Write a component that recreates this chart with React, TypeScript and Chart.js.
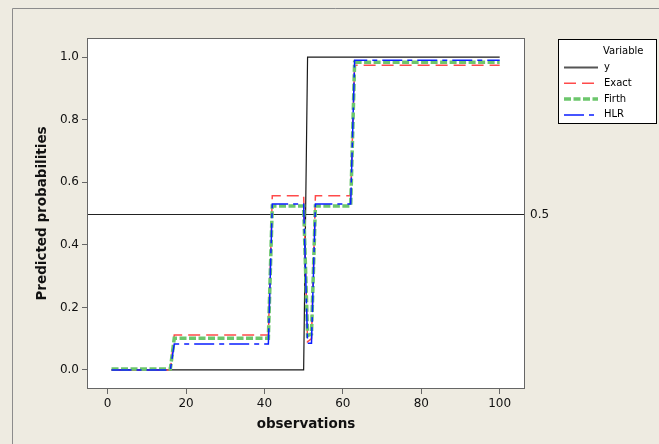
import { useEffect, useRef } from "react";
import { Chart, registerables } from "chart.js";

Chart.register(...registerables);

// ---------- data ----------
const observations = Array.from({ length: 100 }, (_, i) => i + 1);

const yValues = [
  0, 0, 0, 0, 0, 0, 0, 0, 0, 0,
  0, 0, 0, 0, 0, 0, 0, 0, 0, 0,
  0, 0, 0, 0, 0, 0, 0, 0, 0, 0,
  0, 0, 0, 0, 0, 0, 0, 0, 0, 0,
  0, 0, 0, 0, 0, 0, 0, 0, 0, 0,
  1, 1, 1, 1, 1, 1, 1, 1, 1, 1,
  1, 1, 1, 1, 1, 1, 1, 1, 1, 1,
  1, 1, 1, 1, 1, 1, 1, 1, 1, 1,
  1, 1, 1, 1, 1, 1, 1, 1, 1, 1,
  1, 1, 1, 1, 1, 1, 1, 1, 1, 1,
];

const exactValues = [
  0, 0, 0, 0, 0, 0, 0, 0, 0, 0,
  0, 0, 0, 0, 0, 0, 0.112, 0.112, 0.112, 0.112,
  0.112, 0.112, 0.112, 0.112, 0.112, 0.112, 0.112, 0.112, 0.112, 0.112,
  0.112, 0.112, 0.112, 0.112, 0.112, 0.112, 0.112, 0.112, 0.112, 0.112,
  0.112, 0.557, 0.557, 0.557, 0.557, 0.557, 0.557, 0.557, 0.557, 0.557,
  0.09, 0.1, 0.557, 0.557, 0.557, 0.557, 0.557, 0.557, 0.557, 0.557,
  0.557, 0.557, 0.974, 0.974, 0.974, 0.974, 0.974, 0.974, 0.974, 0.974,
  0.974, 0.974, 0.974, 0.974, 0.974, 0.974, 0.974, 0.974, 0.974, 0.974,
  0.974, 0.974, 0.974, 0.974, 0.974, 0.974, 0.974, 0.974, 0.974, 0.974,
  0.974, 0.974, 0.974, 0.974, 0.974, 0.974, 0.974, 0.974, 0.974, 0.974,
];

const firthValues = [
  0.003, 0.003, 0.003, 0.003, 0.003, 0.003, 0.003, 0.003, 0.003, 0.003,
  0.003, 0.003, 0.003, 0.003, 0.003, 0.003, 0.101, 0.101, 0.101, 0.101,
  0.101, 0.101, 0.101, 0.101, 0.101, 0.101, 0.101, 0.101, 0.101, 0.101,
  0.101, 0.101, 0.101, 0.101, 0.101, 0.101, 0.101, 0.101, 0.101, 0.101,
  0.101, 0.524, 0.524, 0.524, 0.524, 0.524, 0.524, 0.524, 0.524, 0.524,
  0.11, 0.115, 0.524, 0.524, 0.524, 0.524, 0.524, 0.524, 0.524, 0.524,
  0.524, 0.524, 0.983, 0.983, 0.983, 0.983, 0.983, 0.983, 0.983, 0.983,
  0.983, 0.983, 0.983, 0.983, 0.983, 0.983, 0.983, 0.983, 0.983, 0.983,
  0.983, 0.983, 0.983, 0.983, 0.983, 0.983, 0.983, 0.983, 0.983, 0.983,
  0.983, 0.983, 0.983, 0.983, 0.983, 0.983, 0.983, 0.983, 0.983, 0.983,
];

const hlrValues = [
  0, 0, 0, 0, 0, 0, 0, 0, 0, 0,
  0, 0, 0, 0, 0, 0, 0.083, 0.083, 0.083, 0.083,
  0.083, 0.083, 0.083, 0.083, 0.083, 0.083, 0.083, 0.083, 0.083, 0.083,
  0.083, 0.083, 0.083, 0.083, 0.083, 0.083, 0.083, 0.083, 0.083, 0.083,
  0.083, 0.53, 0.53, 0.53, 0.53, 0.53, 0.53, 0.53, 0.53, 0.53,
  0.085, 0.085, 0.53, 0.53, 0.53, 0.53, 0.53, 0.53, 0.53, 0.53,
  0.53, 0.53, 0.99, 0.99, 0.99, 0.99, 0.99, 0.99, 0.99, 0.99,
  0.99, 0.99, 0.99, 0.99, 0.99, 0.99, 0.99, 0.99, 0.99, 0.99,
  0.99, 0.99, 0.99, 0.99, 0.99, 0.99, 0.99, 0.99, 0.99, 0.99,
  0.99, 0.99, 0.99, 0.99, 0.99, 0.99, 0.99, 0.99, 0.99, 0.99,
];

const seriesNames = ["y", "Exact", "Firth", "HLR"];
const legendTitle = "Variable";
const xTicks = [0, 20, 40, 60, 80, 100];
const yTicks = [0, 0.2, 0.4, 0.6, 0.8, 1.0];
const refLevel = 0.5;
const xTitle = "observations";
const yTitle = "Predicted probabilities";

// ---------- styling ----------
const FONT = '"DejaVu Sans", Verdana, sans-serif';
const BEIGE = "#EEEBE1";

function toPoints(vals: number[]) {
  return observations.map((o, i) => ({ x: o, y: vals[i] }));
}

const decorPlugin = {
  id: "decor",
  beforeDraw(chart: any) {
    const { ctx, chartArea: a, width, height } = chart;
    ctx.save();
    ctx.fillStyle = BEIGE;
    ctx.fillRect(0, 0, width, height);
    ctx.strokeStyle = "#8c8c8c";
    ctx.lineWidth = 1;
    ctx.beginPath();
    ctx.moveTo(12.5, height);
    ctx.lineTo(12.5, 8.5);
    ctx.lineTo(width, 8.5);
    ctx.stroke();
    ctx.fillStyle = "#ffffff";
    ctx.fillRect(a.left, a.top, a.right - a.left, a.bottom - a.top);
    ctx.restore();
  },
  beforeDatasetsDraw(chart: any) {
    const { ctx, chartArea: a } = chart;
    const y = Math.round(chart.scales.y.getPixelForValue(refLevel)) + 0.5;
    ctx.save();
    ctx.strokeStyle = "#222";
    ctx.lineWidth = 1;
    ctx.beginPath();
    ctx.moveTo(a.left, y);
    ctx.lineTo(a.right, y);
    ctx.stroke();
    ctx.fillStyle = "#111";
    ctx.font = `12px ${FONT}`;
    ctx.textAlign = "left";
    ctx.textBaseline = "middle";
    ctx.fillText(String(refLevel), a.right + 6, y);
    ctx.restore();
  },
  afterDraw(chart: any) {
    const { ctx, chartArea: a } = chart;
    ctx.save();
    // plot frame
    ctx.strokeStyle = "#666";
    ctx.lineWidth = 1;
    ctx.strokeRect(a.left - 0.5, a.top - 0.5, a.right - a.left + 1, a.bottom - a.top + 1);

    // axis titles
    ctx.fillStyle = "#111";
    ctx.font = `bold 13.5px ${FONT}`;
    ctx.textAlign = "center";
    ctx.textBaseline = "middle";
    ctx.fillText(xTitle, (a.left + a.right) / 2, 424);
    ctx.save();
    ctx.translate(42, (a.top + a.bottom) / 2);
    ctx.rotate(-Math.PI / 2);
    ctx.fillText(yTitle, 0, 0);
    ctx.restore();

    // legend
    const lx = 558.5, ly = 39.5, lw = 98, lh = 84;
    ctx.fillStyle = "#fff";
    ctx.fillRect(lx, ly, lw, lh);
    ctx.strokeStyle = "#000";
    ctx.lineWidth = 1;
    ctx.strokeRect(lx, ly, lw, lh);
    ctx.font = `10px ${FONT}`;
    ctx.textAlign = "left";
    ctx.textBaseline = "middle";
    ctx.fillStyle = "#000";
    ctx.fillText(legendTitle, 603, 51);
    chart.data.datasets.forEach((ds: any, i: number) => {
      const yy = 67.5 + i * 15.8;
      ctx.save();
      ctx.strokeStyle = ds.legendColor || ds.borderColor;
      ctx.lineWidth = ds.legendWidth || ds.borderWidth;
      ctx.setLineDash(ds.borderDash || []);
      ctx.beginPath();
      ctx.moveTo(564, yy);
      ctx.lineTo(598, yy);
      ctx.stroke();
      ctx.restore();
      ctx.fillStyle = "#000";
      ctx.fillText(ds.label, 604, yy);
    });
    ctx.restore();
  },
};

export default function App() {
  const ref = useRef<HTMLCanvasElement | null>(null);

  useEffect(() => {
    if (!ref.current) return;
    Chart.defaults.font.family = FONT;
    const chart = new Chart(ref.current, {
      type: "line",
      data: {
        datasets: [
          {
            label: seriesNames[0],
            data: toPoints(yValues),
            borderColor: "#1a1a1a",
            legendColor: "#555",
            legendWidth: 2,
            borderWidth: 1.2,
            borderDash: [],
            order: 3,
          } as any,
          {
            label: seriesNames[1],
            data: toPoints(exactValues),
            borderColor: "#ff4a4a",
            borderWidth: 1.5,
            borderDash: [12, 6],
            order: 2,
          },
          {
            label: seriesNames[2],
            data: toPoints(firthValues),
            borderColor: "#6cc66c",
            borderWidth: 3.5,
            borderDash: [7, 2.5],
            order: 1,
          },
          {
            label: seriesNames[3],
            data: toPoints(hlrValues),
            borderColor: "#0a1eff",
            borderWidth: 1.5,
            borderDash: [20, 5, 5, 5],
            order: 0,
          },
        ],
      },
      options: {
        animation: false,
        responsive: false,
        events: [],
        elements: {
          point: { radius: 0 },
          line: { tension: 0, fill: false },
        },
        layout: { padding: { left: 0, top: 39, right: 135, bottom: 0 } },
        plugins: {
          legend: { display: false },
          tooltip: { enabled: false },
          title: { display: false },
        },
        scales: {
          x: {
            type: "linear",
            min: -5,
            max: 106.2,
            afterFit: (s: any) => {
              s.height = 56;
            },
            afterBuildTicks: (s: any) => {
              s.ticks = xTicks.map((v) => ({ value: v }));
            },
            ticks: {
              color: "#111",
              font: { size: 12, family: FONT },
              padding: 3,
              maxRotation: 0,
              callback: (v: any) => String(v),
            },
            grid: {
              drawOnChartArea: false,
              drawTicks: true,
              tickLength: 6,
              color: "#666",
            },
            border: { display: false },
          },
          y: {
            type: "linear",
            min: -0.0576,
            max: 1.0576,
            afterFit: (s: any) => {
              s.width = 88;
            },
            afterBuildTicks: (s: any) => {
              s.ticks = yTicks.map((v) => ({ value: v }));
            },
            ticks: {
              color: "#111",
              font: { size: 12, family: FONT },
              padding: 3,
              callback: (v: any) => Number(v).toFixed(1),
            },
            grid: {
              drawOnChartArea: false,
              drawTicks: true,
              tickLength: 6,
              color: "#666",
            },
            border: { display: false },
          },
        },
      },
      plugins: [decorPlugin],
    } as any);
    return () => chart.destroy();
  }, []);

  return (
    <div style={{ position: "absolute", left: 0, top: 0, width: 659, height: 444 }}>
      <canvas ref={ref} width={659} height={444} style={{ display: "block" }} />
    </div>
  );
}
